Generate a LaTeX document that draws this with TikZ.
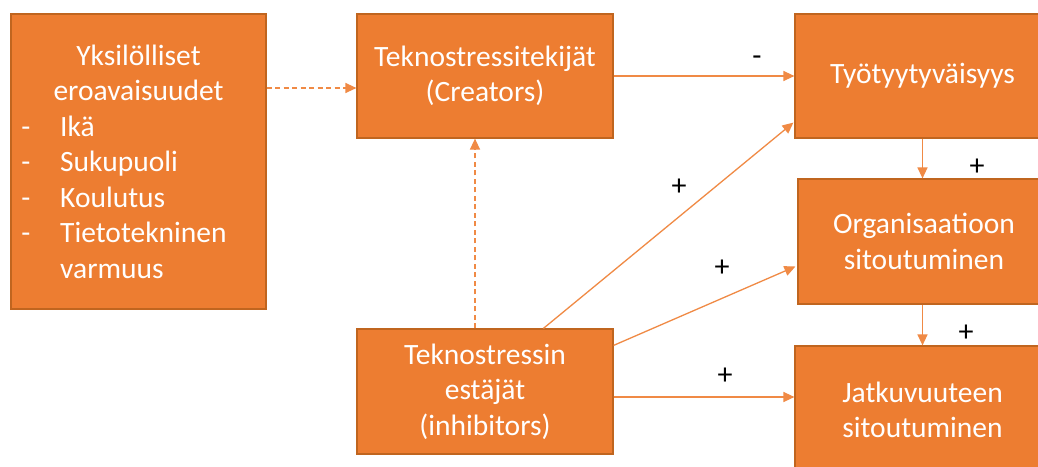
\documentclass[tikz,border=0pt]{standalone}
\usepackage{fontspec}
\setmainfont{Carlito}
\usetikzlibrary{arrows.meta,calc}
\definecolor{boxorange}{HTML}{ED7D31}
\definecolor{boxedge}{HTML}{C0651F}
\definecolor{arroworange}{HTML}{F08A45}
\begin{document}
\begin{tikzpicture}[x=1pt,y=1pt,yscale=-1,
  box/.style={draw=boxedge,line width=1.2pt,fill=boxorange,text=white,
    align=center,inner sep=0pt,
    font=\fontsize{29.5}{35.5}\selectfont},
  boxtext/.style={text=white,inner sep=0pt,font=\fontsize{29.5}{35.5}\selectfont},
  conn/.style={draw=arroworange,line width=1.3pt,
    -{Triangle[length=11pt,width=10pt]}},
  dconn/.style={conn,dash pattern=on 5pt off 3.5pt},
  sign/.style={text=black,inner sep=0pt,font=\fontsize{30}{32}\selectfont}]
\useasboundingbox (0,0) rectangle (1038,466);
\fill[white] (0,0) rectangle (1038,466);

% boxes
\node[box,minimum width=255pt,minimum height=295pt] (yks) at (138.5,161.5) {};
\node[box,minimum width=256pt,minimum height=124pt] (cre) at (485,76)
  {Teknostressitekijät\\(Creators)};
\node[box,minimum width=256pt,minimum height=125pt] (est) at (485,391.5)
  {Teknostressin\\estäjät\\(inhibitors)};
\node[box,minimum width=255pt,minimum height=124pt] (tyo) at (922.5,76)
  {Työtyytyväisyys};
\node[box,minimum width=252pt,minimum height=125pt] (org) at (924,241.5)
  {Organisaatioon\\sitoutuminen};
\node[box,minimum width=255pt,minimum height=128pt] (jat) at (922.5,410)
  {Jatkuvuuteen\\sitoutuminen};

% text of the left box
\node[boxtext,anchor=base] (y1) at (138.5,65) {Yksilölliset};
\node[boxtext,anchor=base] (y2) at (138.5,100.5) {eroavaisuudet};
\node[boxtext,anchor=base] (d1) at (26,136) {-};
\node[boxtext,anchor=base west] (l1) at (60,136) {Ikä};
\node[boxtext,anchor=base] (d2) at (26,171.5) {-};
\node[boxtext,anchor=base west] (l2) at (60,171.5) {Sukupuoli};
\node[boxtext,anchor=base] (d3) at (26,207) {-};
\node[boxtext,anchor=base west] (l3) at (60,207) {Koulutus};
\node[boxtext,anchor=base] (d4) at (26,242.5) {-};
\node[boxtext,anchor=base west] (l4) at (60,242.5) {Tietotekninen};
\node[boxtext,anchor=base west] (l5) at (60,278) {varmuus};

% connectors
\coordinate (cin) at ($(cre.west)+(0,12)$);
\draw[dconn] (yks.east |- cin) -- (cin);
\coordinate (eup) at ($(est.north)+(-10,0)$);
\draw[dconn] (eup) -- (eup |- cre.south);
\draw[conn] (cre.east) -- (tyo.west);
\draw[conn] ($(est.north west)+(187,0)$) -- ($(tyo.south west)+(-1,-16)$);
\draw[conn] ($(est.north east)+(0,17)$) -- ($(org.west)+(-2,25)$);
\coordinate (eout) at ($(est.east)+(0,5.5)$);
\draw[conn] (eout) -- (jat.west |- eout);
\draw[conn] (tyo.south) -- (tyo.south |- org.north);
\draw[conn] (jat.north |- org.south) -- (jat.north);

% signs
\node[sign] (s1) at (757,61) {-};
\node[sign] (s2) at (679,187) {+};
\node[sign] (s3) at (722,268) {+};
\node[sign] (s4) at (725,376) {+};
\node[sign] (s5) at (977,167) {+};
\node[sign] (s6) at (966,333) {+};
\end{tikzpicture}
\end{document}
